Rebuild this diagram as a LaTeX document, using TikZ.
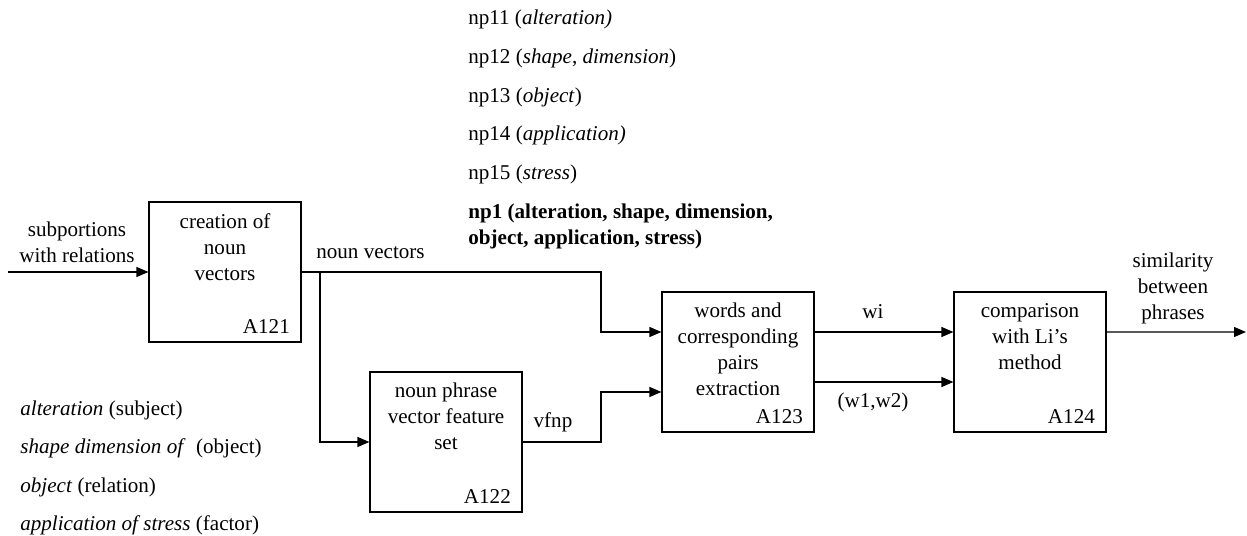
\documentclass[tikz,border=0pt]{standalone}
\usepackage{fontspec}
\setmainfont{Liberation Serif}
\usetikzlibrary{arrows.meta,positioning}

\begin{document}
\begin{tikzpicture}[x=0.02cm,y=-0.02cm,
    font=\fontsize{12}{14.8}\selectfont,
    box/.style={draw,line width=0.7pt,minimum width=3.04cm,minimum height=2.8cm,inner sep=0pt},
    boxtext/.style={anchor=north,align=center,inner sep=0pt,yshift=-6.5pt},
    boxid/.style={anchor=south east,inner sep=0pt,xshift=-6.5pt,yshift=5pt},
    flow/.style={line width=0.7pt,-{Triangle[length=2.4mm,width=2mm]}},
    wire/.style={line width=0.7pt}]
  \useasboundingbox (0,0) rectangle (1247,536);
  % boxes
  \node[box] (a121) at (225,272) {};
  \node[box] (a122) at (446,442) {};
  \node[box] (a123) at (738,362) {};
  \node[box] (a124) at (1030,362) {};
  \node[boxtext] (t121) at (a121.north) {creation of\\noun\\vectors};
  \node[boxtext] (t122) at (a122.north) {noun phrase\\vector feature\\set};
  \node[boxtext] (t123) at (a123.north) {words and\\corresponding\\pairs\\extraction};
  \node[boxtext] (t124) at (a124.north) {comparison\\with Li’s\\method};
  \node[boxid] (id121) at (a121.south east) {A121};
  \node[boxid] (id122) at (a122.south east) {A122};
  \node[boxid] (id123) at (a123.south east) {A123};
  \node[boxid] (id124) at (a124.south east) {A124};
  % connectors
  \coordinate (in) at (8,272);
  \coordinate (split) at (320,272);
  \coordinate (out) at (1246,332);
  \draw[flow] (in) -- (a121.west);
  \draw[flow] (a121.east) -- (601,272) |- ([yshift=0.6cm]a123.west);
  \draw[flow] (split) |- (a122.west);
  \draw[flow] (a122.east) -- (601,442) |- ([yshift=-0.6cm]a123.west);
  \draw[flow] ([yshift=0.6cm]a123.east) -- ([yshift=0.6cm]a124.west);
  \draw[flow] ([yshift=-0.4cm]a123.east) -- ([yshift=-0.4cm]a124.west);
  \draw[flow] ([yshift=0.6cm]a124.east) -- (out);
  % labels
  \node[align=center] (lin) at (77,242) {subportions\\with relations};
  \node[anchor=west,inner sep=0pt] (lnv) at (316,253) {noun vectors};
  \node (lvf) at (553,422) {vfnp};
  \node (lwi) at (873,312) {wi};
  \node (lw12) at (873,402) {(w1,w2)};
  \node[align=center] (lout) at (1173,288) {similarity\\between\\phrases};
  % noun phrases
  \node[anchor=west,inner sep=0pt] (np11) at (468,19) {np11 (\textit{alteration)}};
  \node[anchor=west,inner sep=0pt] (np12) at (468,58) {np12 (\textit{shape}, \textit{dimension})};
  \node[anchor=west,inner sep=0pt] (np13) at (468,97) {np13 (\textit{object})};
  \node[anchor=west,inner sep=0pt] (np14) at (468,135) {np14 (\textit{application)}};
  \node[anchor=west,inner sep=0pt] (np15) at (468,174) {np15 (\textit{stress})};
  \node[anchor=west,inner sep=0pt,align=left,font=\fontsize{12}{14.8}\selectfont\bfseries] (np1) at (468,226) {np1 (alteration, shape, dimension,\\object, application, stress)};
  % relations
  \node[anchor=west,inner sep=0pt] (r1) at (20,410) {\textit{alteration} (subject)};
  \node[anchor=west,inner sep=0pt] (r2) at (20,448) {\textit{shape dimension of}\ \ (object)};
  \node[anchor=west,inner sep=0pt] (r3) at (20,487) {\textit{object} (relation)};
  \node[anchor=west,inner sep=0pt] (r4) at (20,525) {\textit{application of stress} (factor)};
\end{tikzpicture}
\end{document}
